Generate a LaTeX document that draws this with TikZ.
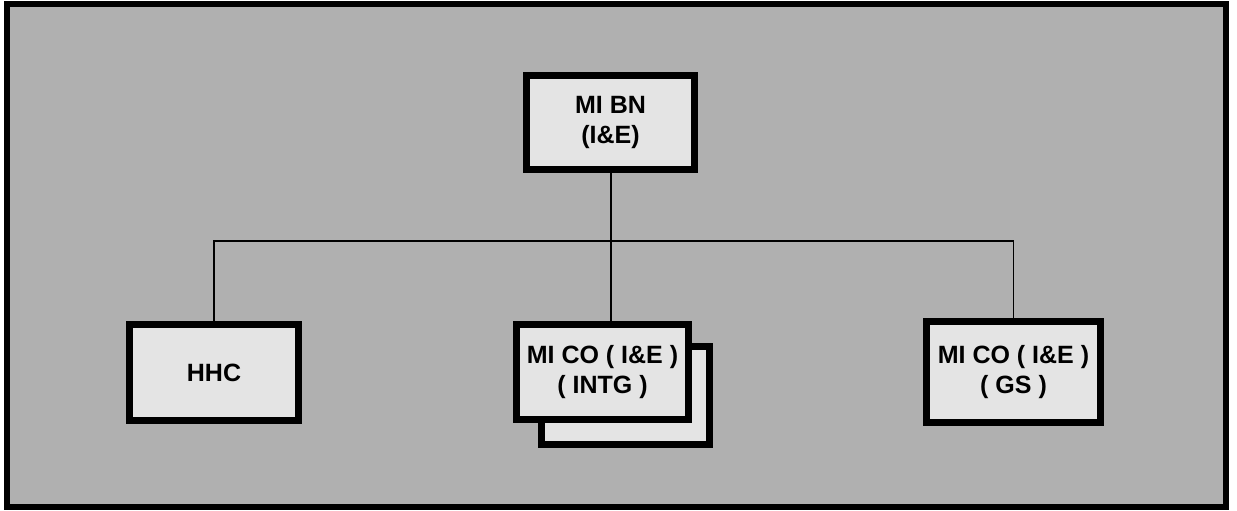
\documentclass[tikz,border=0pt]{standalone}
\usepackage{fontspec}
\setmainfont{Liberation Sans}
\begin{document}
\begin{tikzpicture}[x=1pt,y=-1pt,
  unitbox/.style={draw=black, line width=7pt, fill=boxfill, align=center,
    font=\fontsize{25}{30}\selectfont\bfseries, inner sep=0pt, anchor=center},
  link/.style={draw=black, line width=1.5pt}]
\definecolor{bgfill}{HTML}{B0B0B0}
\definecolor{boxfill}{HTML}{E4E4E4}
\useasboundingbox (0,0) rectangle (1237,511);
\fill[white] (0,0) rectangle (1237,511);
\draw[line width=6pt, fill=bgfill] (7,4) rectangle (1226,507);
\node[unitbox, minimum width=168pt, minimum height=94pt] (bn) at (610.5,122.5) {MI BN\\(I\&E)};
\node[unitbox, minimum width=169pt, minimum height=96pt] (hhc) at (214,372.5) {HHC};
\node[unitbox, minimum width=168pt, minimum height=98pt] (intgback) at (625.5,395.5) {};
\node[unitbox, minimum width=172pt, minimum height=95pt] (intg) at (602.5,372) {MI CO ( I\&E )\\( INTG )};
\node[unitbox, minimum width=174pt, minimum height=101pt] (gs) at (1013.5,372) {MI CO ( I\&E )\\( GS )};
\coordinate (bar) at (611,241);
\draw[link] (bn.south -| bar) -- (bar |- intg.north);
\draw[link] (hhc.north) -- (hhc.north |- bar) -- (gs.north |- bar) -- (gs.north);
\end{tikzpicture}
\end{document}
